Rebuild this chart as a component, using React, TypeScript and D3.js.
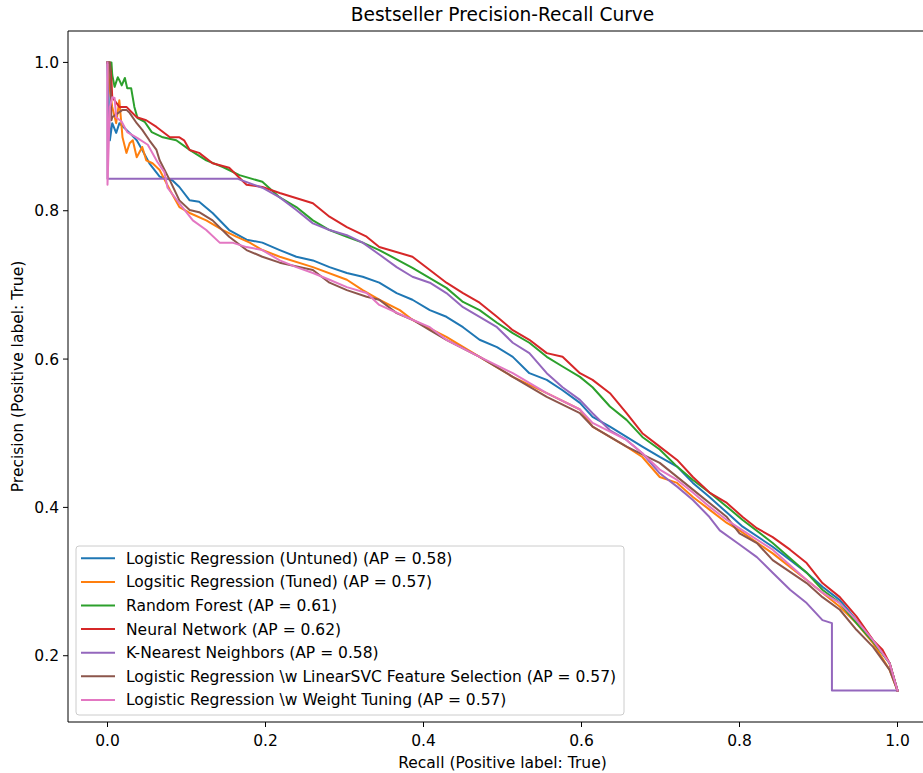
import React from "react";
import * as d3 from "d3";

type Pt = [number, number];

const title = "Bestseller Precision-Recall Curve";
const xLabel = "Recall (Positive label: True)";
const yLabel = "Precision (Positive label: True)";
const xTicks = [0.0, 0.2, 0.4, 0.6, 0.8, 1.0];
const yTicks = [0.2, 0.4, 0.6, 0.8, 1.0];

const seriesNames = [
  "Logistic Regression (Untuned) (AP = 0.58)",
  "Logsitic Regression (Tuned) (AP = 0.57)",
  "Random Forest (AP = 0.61)",
  "Neural Network (AP = 0.62)",
  "K-Nearest Neighbors (AP = 0.58)",
  "Logistic Regression \\w LinearSVC Feature Selection (AP = 0.57)",
  "Logistic Regression \\w Weight Tuning (AP = 0.57)",
];
const seriesColors = ["#1f77b4", "#ff7f0e", "#2ca02c", "#d62728", "#9467bd", "#8c564b", "#e377c2"];

const lrUntuned: Pt[] = [
  [0, 1.0], [0.003, 0.895], [0.006, 0.918], [0.011, 0.905], [0.015, 0.918], [0.028, 0.905],
  [0.037, 0.895], [0.044, 0.882], [0.053, 0.864], [0.066, 0.846], [0.082, 0.841], [0.091, 0.832],
  [0.104, 0.814], [0.116, 0.812], [0.133, 0.797], [0.154, 0.774], [0.176, 0.761], [0.196, 0.757],
  [0.218, 0.747], [0.239, 0.738], [0.26, 0.733], [0.281, 0.724], [0.303, 0.716], [0.323, 0.711],
  [0.344, 0.703], [0.366, 0.689], [0.386, 0.68], [0.408, 0.666], [0.429, 0.657], [0.45, 0.643],
  [0.471, 0.626], [0.493, 0.616], [0.513, 0.603], [0.534, 0.581], [0.556, 0.572], [0.576, 0.558],
  [0.598, 0.541], [0.614, 0.522], [0.636, 0.509], [0.657, 0.495], [0.677, 0.482], [0.699, 0.468],
  [0.721, 0.455], [0.741, 0.433], [0.762, 0.414], [0.784, 0.393], [0.804, 0.374], [0.842, 0.347],
  [0.885, 0.312], [0.905, 0.293], [0.927, 0.275], [0.948, 0.248], [0.969, 0.221], [0.99, 0.19],
  [1.0, 0.153],
];

const lrTuned: Pt[] = [
  [0, 1.0], [0.003, 0.963], [0.006, 0.94], [0.011, 0.918], [0.015, 0.949], [0.019, 0.899],
  [0.024, 0.878], [0.028, 0.891], [0.032, 0.895], [0.037, 0.872], [0.044, 0.886], [0.049, 0.868],
  [0.057, 0.864], [0.066, 0.855], [0.079, 0.828], [0.091, 0.805], [0.104, 0.797], [0.125, 0.787],
  [0.146, 0.774], [0.163, 0.765], [0.18, 0.757], [0.196, 0.747], [0.218, 0.738], [0.26, 0.724],
  [0.303, 0.707], [0.323, 0.693], [0.344, 0.68], [0.37, 0.666], [0.386, 0.653], [0.429, 0.63],
  [0.471, 0.603], [0.513, 0.576], [0.556, 0.554], [0.598, 0.532], [0.614, 0.509], [0.657, 0.482],
  [0.677, 0.468], [0.699, 0.441], [0.721, 0.433], [0.741, 0.414], [0.762, 0.397], [0.784, 0.379],
  [0.8, 0.369], [0.842, 0.338], [0.885, 0.302], [0.905, 0.285], [0.927, 0.266], [0.948, 0.244],
  [0.969, 0.217], [0.99, 0.181], [1.0, 0.153],
];

const randomForest: Pt[] = [
  [0, 1.0], [0.005, 1.0], [0.006, 0.983], [0.009, 0.967], [0.013, 0.98], [0.015, 0.976],
  [0.018, 0.969], [0.022, 0.979], [0.025, 0.965], [0.03, 0.965], [0.034, 0.94], [0.038, 0.925],
  [0.047, 0.92], [0.056, 0.906], [0.07, 0.899], [0.087, 0.895], [0.104, 0.882], [0.125, 0.868],
  [0.146, 0.859], [0.167, 0.848], [0.196, 0.839], [0.218, 0.818], [0.239, 0.805], [0.26, 0.787],
  [0.281, 0.774], [0.303, 0.765], [0.323, 0.757], [0.344, 0.747], [0.386, 0.723], [0.429, 0.696],
  [0.45, 0.677], [0.471, 0.666], [0.493, 0.649], [0.513, 0.635], [0.534, 0.622], [0.556, 0.603],
  [0.576, 0.59], [0.598, 0.576], [0.614, 0.562], [0.636, 0.536], [0.657, 0.518], [0.677, 0.495],
  [0.699, 0.478], [0.721, 0.455], [0.741, 0.437], [0.762, 0.42], [0.784, 0.401], [0.804, 0.383],
  [0.842, 0.352], [0.885, 0.312], [0.905, 0.289], [0.927, 0.271], [0.948, 0.244], [0.969, 0.219],
  [0.99, 0.19], [1.0, 0.153],
];

const neuralNet: Pt[] = [
  [0, 1.0], [0.003, 1.0], [0.005, 0.976], [0.006, 0.953], [0.015, 0.94], [0.024, 0.94],
  [0.037, 0.926], [0.049, 0.922], [0.062, 0.913], [0.079, 0.899], [0.091, 0.899], [0.097, 0.895],
  [0.104, 0.882], [0.116, 0.878], [0.133, 0.864], [0.154, 0.858], [0.176, 0.835], [0.196, 0.832],
  [0.218, 0.824], [0.26, 0.81], [0.281, 0.792], [0.303, 0.778], [0.328, 0.765], [0.344, 0.751],
  [0.386, 0.738], [0.408, 0.72], [0.429, 0.703], [0.45, 0.689], [0.471, 0.676], [0.493, 0.657],
  [0.513, 0.639], [0.534, 0.626], [0.556, 0.608], [0.576, 0.603], [0.598, 0.581], [0.614, 0.572],
  [0.636, 0.554], [0.657, 0.527], [0.677, 0.5], [0.699, 0.482], [0.721, 0.464], [0.741, 0.441],
  [0.762, 0.42], [0.784, 0.406], [0.804, 0.387], [0.822, 0.372], [0.842, 0.36], [0.864, 0.343],
  [0.885, 0.325], [0.905, 0.298], [0.927, 0.279], [0.948, 0.253], [0.969, 0.221], [0.981, 0.208],
  [0.99, 0.19], [1.0, 0.153],
];

const knn: Pt[] = [
  [0, 1.0], [0, 0.843], [0.165, 0.843], [0.196, 0.831], [0.218, 0.818], [0.239, 0.801],
  [0.26, 0.783], [0.281, 0.774], [0.303, 0.767], [0.323, 0.757], [0.344, 0.741], [0.366, 0.724],
  [0.386, 0.711], [0.408, 0.703], [0.429, 0.689], [0.45, 0.67], [0.471, 0.657], [0.493, 0.643],
  [0.513, 0.622], [0.534, 0.608], [0.556, 0.581], [0.576, 0.562], [0.598, 0.545], [0.614, 0.527],
  [0.636, 0.504], [0.657, 0.491], [0.677, 0.473], [0.699, 0.446], [0.721, 0.428], [0.741, 0.41],
  [0.762, 0.387], [0.775, 0.369], [0.8, 0.35], [0.822, 0.333], [0.842, 0.312], [0.864, 0.289],
  [0.885, 0.271], [0.905, 0.248], [0.917, 0.244], [0.917, 0.153], [1.0, 0.153],
];

const lrSvc: Pt[] = [
  [0, 1.0], [0.003, 1.0], [0.005, 0.922], [0.006, 0.926], [0.019, 0.936], [0.024, 0.936],
  [0.028, 0.932], [0.037, 0.918], [0.044, 0.909], [0.053, 0.895], [0.062, 0.882], [0.066, 0.868],
  [0.079, 0.841], [0.091, 0.814], [0.104, 0.801], [0.116, 0.798], [0.133, 0.787], [0.154, 0.765],
  [0.176, 0.747], [0.196, 0.738], [0.218, 0.73], [0.26, 0.72], [0.281, 0.703], [0.303, 0.693],
  [0.328, 0.684], [0.344, 0.68], [0.366, 0.662], [0.386, 0.653], [0.408, 0.639], [0.429, 0.626],
  [0.471, 0.603], [0.513, 0.576], [0.556, 0.549], [0.598, 0.527], [0.614, 0.509], [0.657, 0.482],
  [0.699, 0.46], [0.741, 0.424], [0.784, 0.387], [0.8, 0.365], [0.822, 0.352], [0.842, 0.329],
  [0.885, 0.298], [0.905, 0.279], [0.927, 0.262], [0.948, 0.235], [0.969, 0.212], [0.99, 0.181],
  [1.0, 0.153],
];

const lrWeight: Pt[] = [
  [0, 1.0], [0, 0.835], [0.003, 0.94], [0.006, 0.953], [0.009, 0.952], [0.011, 0.926],
  [0.018, 0.92], [0.025, 0.906], [0.038, 0.898], [0.051, 0.889], [0.063, 0.866], [0.072, 0.852],
  [0.076, 0.831], [0.091, 0.81], [0.108, 0.787], [0.125, 0.774], [0.142, 0.757], [0.158, 0.757],
  [0.176, 0.751], [0.196, 0.747], [0.218, 0.733], [0.239, 0.724], [0.26, 0.716], [0.281, 0.707],
  [0.303, 0.697], [0.328, 0.689], [0.344, 0.673], [0.386, 0.653], [0.408, 0.643], [0.429, 0.626],
  [0.471, 0.603], [0.513, 0.581], [0.556, 0.554], [0.598, 0.532], [0.614, 0.514], [0.657, 0.491],
  [0.677, 0.473], [0.699, 0.451], [0.721, 0.437], [0.741, 0.42], [0.762, 0.401], [0.784, 0.383],
  [0.804, 0.369], [0.842, 0.343], [0.885, 0.302], [0.905, 0.285], [0.927, 0.271], [0.948, 0.248],
  [0.969, 0.221], [0.99, 0.19], [1.0, 0.153],
];

const seriesData: Pt[][] = [lrUntuned, lrTuned, randomForest, neuralNet, knn, lrSvc, lrWeight];

const W = 923;
const H = 773;
const FONT = "DejaVu Sans, Liberation Sans, sans-serif";

export default function App() {
  const left = 68, right = 937, top = 31, bottom = 722;
  const x = d3.scaleLinear().domain([-0.05, 1.05]).range([left, right]);
  const yMin = 0.153 - 0.05 * (1 - 0.153);
  const yMax = 1 + 0.05 * (1 - 0.153);
  const y = d3.scaleLinear().domain([yMin, yMax]).range([bottom, top]);
  const line = d3
    .line<Pt>()
    .x((d) => x(d[0]))
    .y((d) => y(d[1]))
    .curve(d3.curveLinear);

  const fs = 15.5;
  const legX = 76, legY = 546, legW = 548, legH = 169;
  const rowH = 23.6;
  const row0 = 558.3;

  return (
    <svg
      width={W}
      height={H}
      style={{ position: "absolute", left: 0, top: 0, background: "#fff" }}
      fontFamily={FONT}
    >
      <rect x={0} y={0} width={W} height={H} fill="#fff" />
      <text x={(left + right) / 2} y={21} textAnchor="middle" fontSize={18.6} fill="#000">
        {title}
      </text>

      <defs>
        <clipPath id="plotclip">
          <rect x={left} y={top} width={right - left} height={bottom - top} />
        </clipPath>
      </defs>

      <g clipPath="url(#plotclip)">
        {seriesData.map((s, i) => (
          <path
            key={i}
            d={line(s) || ""}
            fill="none"
            stroke={seriesColors[i]}
            strokeWidth={2}
            strokeLinejoin="round"
            strokeLinecap="square"
          />
        ))}
      </g>

      {/* spines */}
      <line x1={left} x2={left} y1={top} y2={bottom} stroke="#000" strokeWidth={1} />
      <line x1={left} x2={right} y1={bottom} y2={bottom} stroke="#000" strokeWidth={1} />
      <line x1={left} x2={right} y1={top} y2={top} stroke="#000" strokeWidth={1} />
      <line x1={right} x2={right} y1={top} y2={bottom} stroke="#000" strokeWidth={1} />

      {/* x ticks */}
      {xTicks.map((t) => (
        <g key={"x" + t}>
          <line x1={x(t)} x2={x(t)} y1={bottom} y2={bottom + 5} stroke="#000" strokeWidth={1} />
          <text x={x(t)} y={bottom + 24} textAnchor="middle" fontSize={fs} fill="#000">
            {d3.format(".1f")(t)}
          </text>
        </g>
      ))}
      {/* y ticks */}
      {yTicks.map((t) => (
        <g key={"y" + t}>
          <line x1={left - 5} x2={left} y1={y(t)} y2={y(t)} stroke="#000" strokeWidth={1} />
          <text x={left - 9} y={y(t) + 5.5} textAnchor="end" fontSize={fs} fill="#000">
            {d3.format(".1f")(t)}
          </text>
        </g>
      ))}

      <text x={(left + right) / 2} y={768} textAnchor="middle" fontSize={fs} fill="#000">
        {xLabel}
      </text>
      <text
        transform={`translate(${23},${(top + bottom) / 2}) rotate(-90)`}
        textAnchor="middle"
        fontSize={fs}
        fill="#000"
      >
        {yLabel}
      </text>

      {/* legend */}
      <rect
        x={legX}
        y={legY}
        width={legW}
        height={legH}
        rx={3}
        fill="#fff"
        fillOpacity={0.8}
        stroke="#cccccc"
        strokeWidth={1}
      />
      {seriesNames.map((n, i) => {
        const ry = row0 + i * rowH;
        return (
          <g key={n}>
            <line x1={81} x2={115} y1={ry} y2={ry} stroke={seriesColors[i]} strokeWidth={2} />
            <text x={126} y={ry + 5.5} fontSize={fs} fill="#000">
              {n}
            </text>
          </g>
        );
      })}
    </svg>
  );
}
